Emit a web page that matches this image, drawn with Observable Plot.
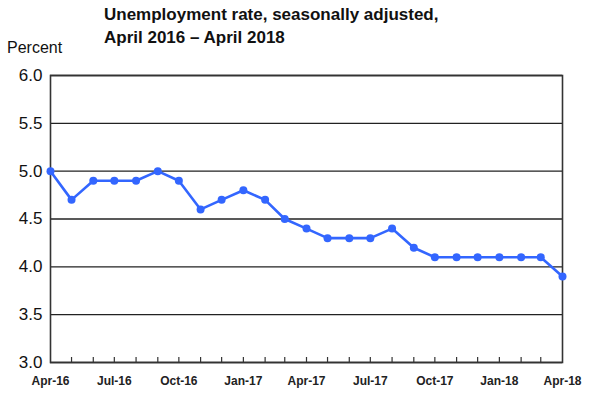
<!DOCTYPE html>
<html>
<head>
<meta charset="utf-8">
<script src="https://cdn.jsdelivr.net/npm/d3@7"></script>
<script src="https://cdn.jsdelivr.net/npm/@observablehq/plot@0.6"></script>
<style>
  html, body { margin: 0; padding: 0; background: #fff; }
  #wrap { position: relative; width: 605px; height: 399px; font-family: "Liberation Sans", Arial, sans-serif; }
  #title { position: absolute; left: 104px; top: 3px; font-weight: bold; font-size: 17px; line-height: 23px; color: #111; }
  #unit { position: absolute; left: 7px; top: 39px; font-size: 16px; color: #111; }
  #chart { position: absolute; left: 0; top: 0; }
</style>
</head>
<body>
<div id="wrap">
  <div id="chart"></div>
  <div id="title">Unemployment rate, seasonally adjusted,<br>April 2016 – April 2018</div>
  <div id="unit">Percent</div>
</div>
<script>
const months = ["2016-04","2016-05","2016-06","2016-07","2016-08","2016-09","2016-10","2016-11","2016-12",
  "2017-01","2017-02","2017-03","2017-04","2017-05","2017-06","2017-07","2017-08","2017-09","2017-10","2017-11","2017-12",
  "2018-01","2018-02","2018-03","2018-04"];
const rates = [5.0,4.7,4.9,4.9,4.9,5.0,4.9,4.6,4.7,4.8,4.7,4.5,4.4,4.3,4.3,4.3,4.4,4.2,4.1,4.1,4.1,4.1,4.1,4.1,3.9];
const yTicks = [3.0,3.5,4.0,4.5,5.0,5.5,6.0];
const xTickLabels = ["Apr-16","Jul-16","Oct-16","Jan-17","Apr-17","Jul-17","Oct-17","Jan-18","Apr-18"];

const parse = d3.utcParse("%Y-%m");
const data = months.map((m, i) => ({date: parse(m), rate: rates[i]}));
const dates = data.map(d => d.date);
const labelDates = dates.filter((d, i) => i % 3 === 0);

const W = 605, H = 399, mTop = 75, mBottom = 37;
const chart = Plot.plot({
  width: W,
  height: H,
  marginLeft: 50,
  marginRight: 43,
  marginTop: mTop,
  marginBottom: mBottom,
  style: {fontFamily: "Liberation Sans, Arial, sans-serif", background: "transparent"},
  x: {type: "utc", domain: [dates[0], dates[dates.length - 1]]},
  y: {domain: [3, 6]},
  marks: [
    Plot.gridY(yTicks, {stroke: "#222", strokeOpacity: 1, strokeWidth: 1.3}),
    Plot.frame({stroke: "#333", strokeWidth: 1.6}),
    Plot.tickX(dates.slice(1, -1), {x: d => d, stroke: "#333", strokeWidth: 1.2, insetTop: H - mTop - mBottom - 5}),
    Plot.axisY(yTicks, {tickSize: 0, tickPadding: 8, tickFormat: d3.format(".1f"), fontSize: 17, fill: "#111", label: null}),
    Plot.axisX(labelDates, {tickSize: 0, tickPadding: 14, tickFormat: (d, i) => xTickLabels[i], fontSize: 12, fontWeight: "bold", fill: "#222", label: null}),
    Plot.line(data, {x: "date", y: "rate", stroke: "#3366ff", strokeWidth: 2.6}),
    Plot.dot(data, {x: "date", y: "rate", fill: "#3366ff", r: 4})
  ]
});
document.getElementById("chart").appendChild(chart);
</script>
</body>
</html>
